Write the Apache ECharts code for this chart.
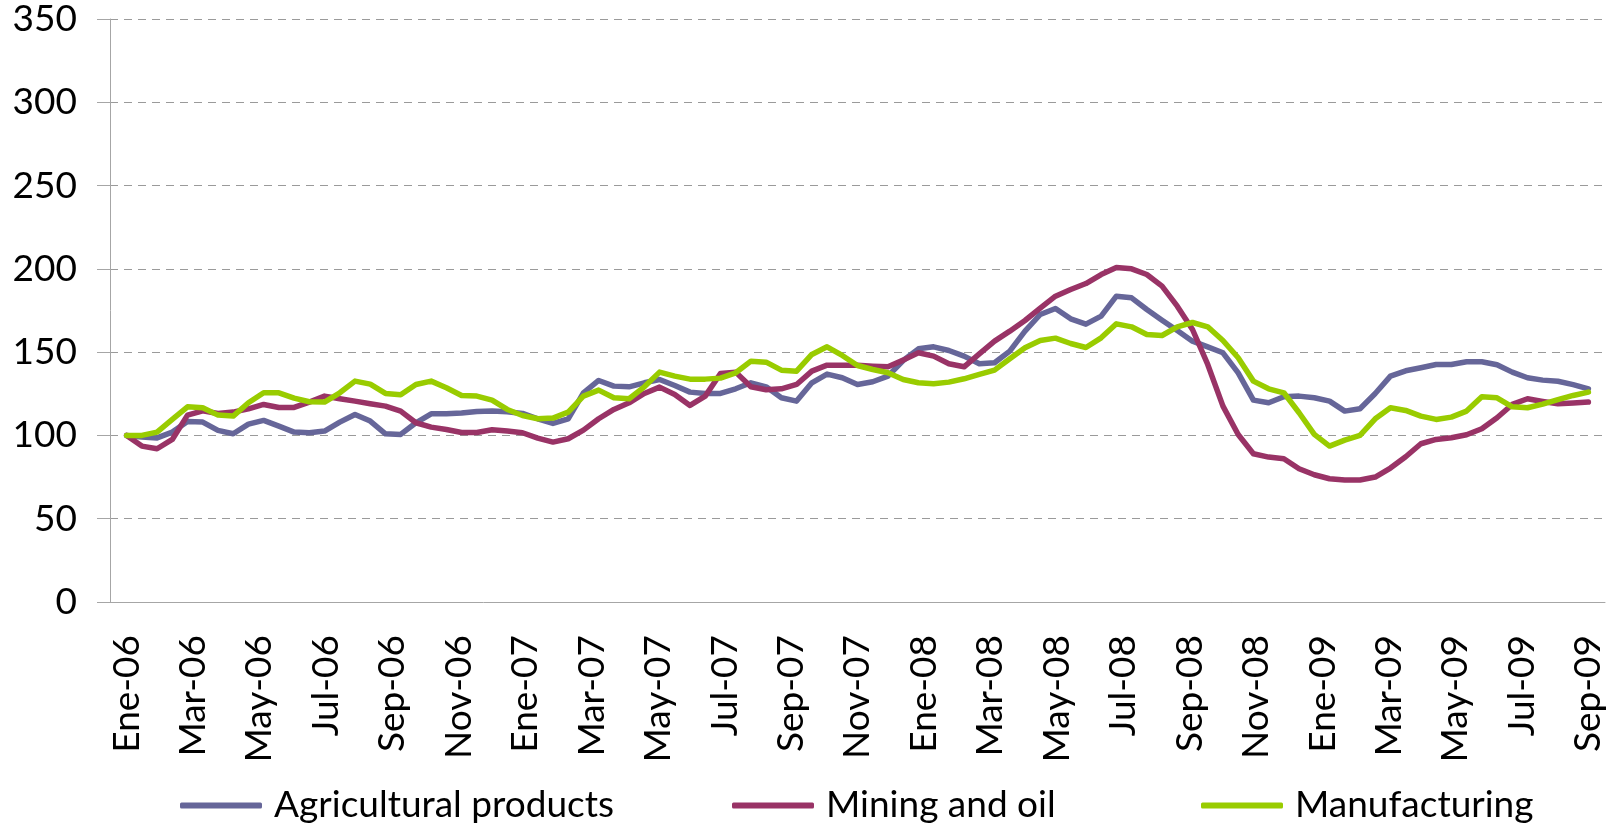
<!DOCTYPE html>
<html>
<head>
<meta charset="utf-8">
<script src="https://cdn.jsdelivr.net/npm/echarts@6/dist/echarts.min.js"></script>
<style>
    html, body { margin: 0; padding: 0; background: #fff; }
</style>
</head>
<body>
<div style="width:1616px;height:830px;" id="price_index_con"></div>
<script>
    // month labels on the axis (Spanish abbreviations as in the source)
    let monthNames = ['Ene', 'Feb', 'Mar', 'Abr', 'May', 'Jun', 'Jul', 'Ago', 'Sep', 'Oct', 'Nov', 'Dic'];
    let years = ['06', '07', '08', '09'];
    let lastMonth = 9; // Sep-09

    // index values (base 100), two readings per month
    let agricultural = [
        100, 99, 98.5, 102, 108.4, 108, 103, 101, 106.8, 109,
        105.6, 102, 101.6, 102.6, 108, 112.6, 108.6, 101, 100.6, 107.6,
        113, 113, 113.4, 114.4, 114.6, 114.2, 113.2, 110, 107.2, 110,
        125.6, 133, 129.6, 129.2, 131.6, 133.6, 130, 126, 125.2, 125.2,
        128, 131.6, 129.2, 122.6, 120.6, 131.6, 136.8, 134.6, 130.6, 132.2,
        135.6, 145, 152, 153.2, 151, 147.6, 143, 143.6, 150.6, 162.6,
        172.6, 176.2, 170, 166.8, 171.6, 183.6, 182.6, 175.6, 169.2, 163,
        156.6, 153.2, 149.6, 137.6, 121.2, 119.6, 123.2, 123.6, 122.6, 120.6,
        114.6, 116, 125.2, 135.6, 138.8, 140.6, 142.6, 142.6, 144.2, 144.2,
        142.4, 138, 134.6, 133.2, 132.5, 130.5, 128
    ];
    let mining = [
        100, 93.6, 92, 97.6, 112.2, 114.8, 113.2, 114, 116, 118.6,
        116.8, 116.8, 120, 123.6, 122, 120.6, 119, 117.6, 114.6, 107.6,
        105, 103.6, 101.8, 101.8, 103.4, 102.6, 101.6, 98.4, 96, 98,
        103.2, 110, 115.6, 119.6, 125.2, 129, 124.6, 118, 123.6, 137.2,
        138, 129.2, 127.4, 128, 130.6, 138.6, 142.2, 142.2, 142.2, 141.6,
        141.2, 145.2, 149.6, 147.6, 143, 141.2, 149, 156.6, 162.6, 169,
        176.4, 183.6, 187.6, 191.2, 196.6, 200.8, 200, 196.6, 189.6, 177.6,
        163.6, 142.6, 117.6, 100.6, 89, 87, 86, 80, 76.4, 74,
        73.2, 73.2, 75, 80.4, 87.2, 95, 97.6, 98.6, 100.4, 104,
        110.6, 118.6, 122, 120.4, 119, 119.5, 120
    ];
    let manufacturing = [
        100, 100, 102, 109.6, 117.2, 116.6, 112.2, 111.6, 119.6, 125.6,
        125.6, 122.4, 120.2, 120, 125.6, 132.6, 130.8, 125.2, 124.4, 130.6,
        132.6, 128.6, 124, 123.6, 121.2, 115.6, 112, 110, 110.4, 114,
        123.6, 127.2, 122.6, 122, 129.2, 138, 135.6, 133.8, 133.8, 134.4,
        137.6, 144.6, 144, 139.2, 138.6, 148.6, 153.2, 148, 142, 139.6,
        137.6, 133.6, 131.6, 131, 132, 134, 136.6, 139.2, 146, 152.6,
        157, 158.4, 155.2, 152.8, 158.6, 167, 165.2, 160.6, 160, 165.2,
        167.8, 165.2, 157, 146.6, 132.6, 128, 125.6, 113.6, 100.6, 93.6,
        97.2, 100, 110, 116.6, 115, 111.6, 109.6, 111, 114.6, 123.2,
        122.6, 117.2, 116.6, 118.8, 121.5, 124, 126
    ];
    let seriesNames = ['Agricultural products', 'Mining and oil', 'Manufacturing'];
    let seriesColors = ['#666699', '#993366', '#99cc00'];

    let months = [];
    for (let y = 0; y < years.length; y++) {
        for (let m = 0; m < 12; m++) {
            if (y === years.length - 1 && m >= lastMonth) break;
            months.push(monthNames[m] + '-' + years[y]);
        }
    }

    // readings run from the middle of Ene-06 to the middle of Sep-09
    function toPoints(values) {
        let pts = [];
        let step = (months.length - 1) / (values.length - 1);
        for (let i = 0; i < values.length; i++) {
            pts.push([i * step, values[i]]);
        }
        return pts;
    }

    let fontName = 'Lato';
    let chart = echarts.init(document.getElementById('price_index_con'));

    let series = [];
    let legends = [];
    let legendLeft = [175, 727, 1196];
    let allValues = [agricultural, mining, manufacturing];
    for (let s = 0; s < seriesNames.length; s++) {
        series.push({
            name: seriesNames[s],
            type: 'line',
            xAxisIndex: 1,
            data: toPoints(allValues[s]),
            showSymbol: false,
            symbol: 'none',
            lineStyle: {width: 5.5, color: seriesColors[s], cap: 'round', join: 'round'},
            itemStyle: {color: seriesColors[s]},
            animation: false
        });
        legends.push({
            data: [seriesNames[s]],
            left: legendLeft[s],
            top: 782,
            icon: 'roundRect',
            itemWidth: 82,
            itemHeight: 6,
            textStyle: {fontFamily: fontName, fontSize: 37, color: '#000', padding: [0, 0, 0, 7]}
        });
    }

    const option = {
        backgroundColor: '#fff',
        grid: {
            left: 110,
            right: 11,
            top: 19,
            bottom: 228,
            containLabel: false
        },
        legend: legends,
        xAxis: [
            {
                type: 'category',
                data: months,
                boundaryGap: true,
                axisLine: {lineStyle: {color: '#a6a6a6', width: 1}},
                axisTick: {interval: 1, length: 11, lineStyle: {color: '#a6a6a6'}},
                axisLabel: {
                    interval: 1,
                    rotate: 90,
                    margin: 33,
                    fontFamily: fontName,
                    fontSize: 37,
                    color: '#000'
                },
                splitLine: {show: false}
            },
            {
                type: 'value',
                min: -0.5,
                max: months.length - 0.5,
                show: false
            }
        ],
        yAxis: {
            type: 'value',
            min: 0,
            max: 350,
            interval: 50,
            axisLine: {show: true, onZero: false, lineStyle: {color: '#a6a6a6', width: 1}},
            axisTick: {show: true, length: 13, lineStyle: {color: '#a6a6a6'}},
            axisLabel: {margin: 33, fontFamily: fontName, fontSize: 37, color: '#000'},
            splitLine: {lineStyle: {color: '#9a9a9a', type: [8, 6], width: 1}}
        },
        series: series
    };

    chart.setOption(option);

    window.addEventListener('resize', function () {
        chart.resize();
    });
</script>
</body>
</html>
